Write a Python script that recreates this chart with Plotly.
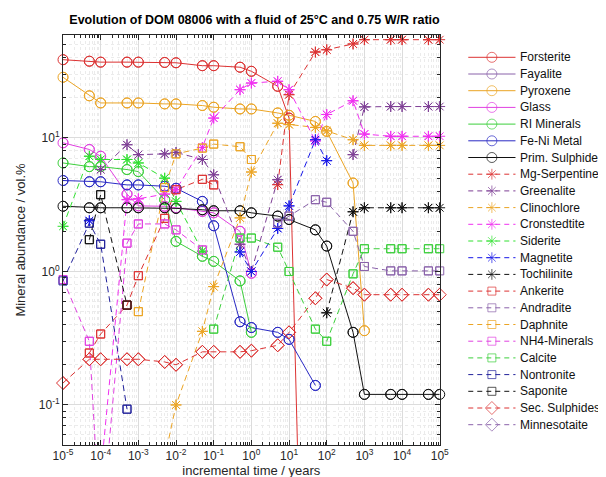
import plotly.graph_objects as go

N = None
T = [1e-5, 5e-5, 1e-4, 5e-4, 1e-3, 5e-3, 1e-2, 5e-2, 0.1, 0.5, 1, 5, 10, 50, 100,
     500, 1e3, 5e3, 1e4, 5e4, 1e5]

forsterite   = [38.6, 37.6, 37.0, 37.0, 37.0, 36.8, 36.6, 34.8, 34.8, 33.9, 31.6, 24.4, 14.1, 3e-7, N, N, N, N, N, N, N]
fayalite     = [N] * 21
pyroxene     = [28.5, 20.7, 18.3, 18.3, 18.3, 18.0, 18.0, 17.5, 17.0, 16.5, 16.5, 15.4, 14.8, 13.3, 11.2, 4.6, 0.36, N, N, N, N]
glass        = [9.2, 8.2, 7.3, 3.8, 3.1, 3.08, 3.0, 2.82, 2.75, 2.0, 0.97, N, N, N, N, N, N, N, N, N, N]
ri_minerals  = [6.5, 6.1, 6.1, 5.8, 5.6, 3.45, 1.68, 1.3, 1.19, 0.85, 0.35, N, N, N, N, N, N, N, N, N, N]
fe_ni        = [4.8, 4.7, 4.7, 4.45, 4.45, 4.35, 4.2, 3.35, 2.2, 0.42, 0.38, 0.35, 0.31, 0.14, N, N, N, N, N, N, N]
prim_sulph   = [3.08, 3.0, 3.0, 3.0, 3.0, 3.0, 2.97, 2.9, 2.85, 2.85, 2.75, 2.6, 2.45, 2.05, 1.55, 0.35, 0.12, 0.12, 0.12, 0.12, 0.12]
mg_serp      = [N, N, N, N, N, N, N, N, N, N, N, 4.47, 21.1, 44.0, 45.8, 50.6, 54.5, 54.5, 54.5, 54.5, 54.5]
greenalite   = [N, N, 5.8, 8.9, 7.5, 7.6, 7.8, 6.9, 5.3, 1.6, 1.0, 4.87, N, N, N, 7.5, 17.1, 17.2, 17.2, 17.2, 17.2]
clinochlore  = [N, N, N, N, N, 0.04, 0.1, 0.356, 0.77, 2.52, 5.56, 12.9, 12.6, 12.0, 11.3, 9.7, 8.8, 8.8, 8.8, 8.8, 8.8]
cronstedtite = [N, N, 0.03, 3.45, 3.5, 3.8, 4.1, 8.5, 14.1, 23.0, 25.8, 26.6, 23.0, 9.5, 15.0, 19.0, 10.7, 10.3, 10.3, 10.3, 10.3]
siderite     = [2.18, 7.3, 6.9, 6.9, 6.5, 5.0, 3.35, 1.42, N, N, N, N, N, N, N, N, N, N, N, N, N]
magnetite    = [N, 2.4, N, N, N, N, N, N, N, 1.4, 1.0, 2.1, 3.1, 9.7, 6.76, N, N, N, N, N, N]
tochilinite  = [N, N, N, N, N, N, N, N, N, N, N, N, N, N, 0.49, 2.8, 3.0, 3.0, 3.0, 3.0, 3.0]
ankerite     = [N, 0.245, 0.34, 0.56, 0.93, 2.5, 4.1, 4.9, 4.45, N, N, N, N, N, N, N, N, N, N, N, N]
andradite    = [N, N, N, N, N, N, N, N, N, N, N, 2.3, 2.6, 3.45, 3.3, 2.0, 1.09, 1.01, 1.01, 1.01, 1.01]
daphnite     = [N, N, N, N, 0.5, 4.25, 7.6, 8.4, 9.0, 8.6, 6.9, N, N, N, N, N, N, N, N, N, N]
nh4_minerals = [0.87, 0.30, 0.01, 1.63, 2.27, 2.27, 2.05, 1.45, N, N, N, N, N, N, N, N, N, N, N, N, N]
calcite      = [N, N, N, N, N, N, N, N, 0.37, 1.78, 1.78, 1.52, 1.0, 0.37, 0.30, 0.96, 1.48, 1.48, 1.48, 1.48, 1.48]
nontronite   = [0.85, 2.3, 1.6, 0.093, N, N, N, N, N, N, N, N, N, N, N, N, N, N, N, N, N]
saponite     = [N, 1.73, 3.76, 0.56, N, N, N, N, N, N, N, N, N, N, N, N, N, N, N, N, N]
sec_sulph    = [0.146, 0.22, 0.22, 0.22, 0.22, 0.21, 0.2, 0.25, 0.25, 0.25, 0.255, 0.28, 0.35, 0.63, 0.87, 0.75, 0.67, 0.67, 0.67, 0.67, 0.67]
minnesotaite = [N] * 21

x_ticks = [1e-5, 1e-4, 1e-3, 1e-2, 1e-1, 1e0, 1e1, 1e2, 1e3, 1e4, 1e5]
x_labels = ["10<sup>-5</sup>", "10<sup>-4</sup>", "10<sup>-3</sup>", "10<sup>-2</sup>", "10<sup>-1</sup>",
            "10<sup>0</sup>", "10<sup>1</sup>", "10<sup>2</sup>", "10<sup>3</sup>", "10<sup>4</sup>", "10<sup>5</sup>"]
y_ticks = [0.1, 1, 10]
y_labels = ["10<sup>-1</sup>", "10<sup>0</sup>", "10<sup>1</sup>"]

RED = "#dc3232"
PUR = "#7e3f95"
ORA = "#eba424"
MAG = "#e040e0"
GRN = "#3ccf3c"
BLU = "#2a2ac4"
BLK = "#111111"
LPUR = "#8a62aa"
SGRN = "#30e030"
MBLU = "#1818e8"
NBLU = "#20209a"

series = [
    ("Forsterite", forsterite, RED, "circle-open", "solid", 10),
    ("Fayalite", fayalite, LPUR, "circle-open", "solid", 10),
    ("Pyroxene", pyroxene, ORA, "circle-open", "solid", 10),
    ("Glass", glass, MAG, "circle-open", "solid", 10),
    ("RI Minerals", ri_minerals, GRN, "circle-open", "solid", 10),
    ("Fe-Ni Metal", fe_ni, BLU, "circle-open", "solid", 10),
    ("Prim. Sulphides", prim_sulph, BLK, "circle-open", "solid", 10),
    ("Mg-Serpentine", mg_serp, RED, "asterisk-open", "dash", 9),
    ("Greenalite", greenalite, PUR, "asterisk-open", "dash", 9),
    ("Clinochlore", clinochlore, ORA, "asterisk-open", "dash", 9),
    ("Cronstedtite", cronstedtite, "#f030f0", "asterisk-open", "dash", 9),
    ("Siderite", siderite, SGRN, "asterisk-open", "dash", 9),
    ("Magnetite", magnetite, MBLU, "asterisk-open", "dash", 9),
    ("Tochilinite", tochilinite, BLK, "asterisk-open", "dash", 9),
    ("Ankerite", ankerite, RED, "square-open", "dash", 8),
    ("Andradite", andradite, LPUR, "square-open", "dash", 8),
    ("Daphnite", daphnite, ORA, "square-open", "dash", 8),
    ("NH4-Minerals", nh4_minerals, MAG, "square-open", "dash", 8),
    ("Calcite", calcite, GRN, "square-open", "dash", 8),
    ("Nontronite", nontronite, NBLU, "square-open", "dash", 8),
    ("Saponite", saponite, BLK, "square-open", "dash", 8),
    ("Sec. Sulphides", sec_sulph, RED, "diamond-open", "dash", 10),
    ("Minnesotaite", minnesotaite, LPUR, "diamond-open", "dash", 10),
]

# geometry (pixels) of the figure
W, H = 606, 477
ML, MT, MB = 55, 27, 40
PLOT_RIGHT = 438
LEG_LEFT = 455
FIG_W = W - ML
main_dom = [0, (PLOT_RIGHT - ML) / FIG_W]
leg_dom = [(LEG_LEFT - ML) / FIG_W, 1]
ITEM0, ITEM_STEP = 49.3, 16.7
leg_top = (MT - ITEM0) / ITEM_STEP
leg_bot = (H - MB - ITEM0) / ITEM_STEP

Y_MIN_LOG, Y_MAX_LOG = -1.30, 1.7715
y_lo, y_hi = 10 ** Y_MIN_LOG, 10 ** Y_MAX_LOG
DASH = "6px,4px"
FONT = "Liberation Sans, Arial"

fig = go.Figure()
for name, vals, col, sym, dash, sz in series:
    fig.add_trace(go.Scatter(
        x=T, y=vals, name=name, mode="lines+markers", showlegend=False,
        line=dict(color=col, width=1, dash=DASH if dash == "dash" else "solid"),
        marker=dict(symbol=sym, size=sz, color=col, line=dict(color=col, width=1)),
        connectgaps=False, cliponaxis=True,
    ))
for name, vals, col, sym, dash, sz in series:
    xs = [t for t, v in zip(T, vals) if v is not None and y_lo <= v <= y_hi]
    ys = [v for v in vals if v is not None and y_lo <= v <= y_hi]
    if xs:
        fig.add_trace(go.Scatter(
            x=xs, y=ys, mode="markers", showlegend=False, hoverinfo="skip",
            marker=dict(symbol=sym, size=sz, color=col, line=dict(color=col, width=1)),
            cliponaxis=False,
        ))

# custom legend drawn on its own hidden axes (x in pixels, y in item index)
for i, (name, vals, col, sym, dash, sz) in enumerate(series):
    fig.add_trace(go.Scatter(
        x=[467, 491, 515], y=[i, i, i], xaxis="x2", yaxis="y2",
        mode="lines+markers", showlegend=False, hoverinfo="skip", cliponaxis=False,
        line=dict(color=col, width=1, dash="5px,4px" if dash == "dash" else "solid"),
        marker=dict(symbol=sym, size=[0, sz, 0], color=col, line=dict(color=col, width=1)),
    ))
    fig.add_annotation(x=518, y=i, xref="x2", yref="y2", text=name, showarrow=False,
                       xanchor="left", yanchor="middle",
                       font=dict(family=FONT, size=12, color="#111111"))

minor_vals = [m * 10 ** e for e in range(-5, 5) for m in range(2, 10)]
minor_y = [m * 10 ** e for e in range(-2, 2) for m in range(2, 10)]

axis_common = dict(
    type="log", showline=True, linecolor="#262626", linewidth=1, mirror="ticks",
    ticks="inside", ticklen=5, tickcolor="#262626",
    showgrid=True, gridcolor="#dcdcdc", gridwidth=1, zeroline=False,
    tickfont=dict(family=FONT, size=12, color="#262626"),
)

fig.update_layout(
    xaxis=dict(**axis_common, domain=main_dom, range=[-5, 5], tickmode="array",
               tickvals=x_ticks, ticktext=x_labels,
               minor=dict(tickmode="array", tickvals=minor_vals, ticks="inside", ticklen=3,
                          tickcolor="#262626", showgrid=True, gridcolor="#ebebeb", griddash="dot"),
               title=dict(text="incremental time / years", standoff=0,
                          font=dict(family=FONT, size=13, color="#262626"))),
    yaxis=dict(**axis_common, range=[Y_MIN_LOG, Y_MAX_LOG], tickmode="array",
               tickvals=y_ticks, ticktext=y_labels,
               minor=dict(tickmode="array", tickvals=minor_y, ticks="inside", ticklen=3,
                          tickcolor="#262626", showgrid=True, gridcolor="#ebebeb", griddash="dot"),
               title=dict(text="Mineral abundance / vol.%", standoff=10,
                          font=dict(family=FONT, size=13, color="#262626"))),
    xaxis2=dict(domain=leg_dom, range=[LEG_LEFT, W], visible=False, anchor="y2", fixedrange=True),
    yaxis2=dict(domain=[0, 1], range=[leg_bot, leg_top], visible=False, anchor="x2", fixedrange=True),
    width=W, height=H,
    margin=dict(l=ML, r=0, t=MT, b=MB),
    paper_bgcolor="white", plot_bgcolor="white",
    title=dict(text="<b>Evolution of DOM 08006 with a fluid of 25°C and 0.75 W/R ratio</b>",
               x=((ML + PLOT_RIGHT) / 2) / W, xref="container", xanchor="center",
               y=1 - 12 / H, yanchor="middle",
               font=dict(family=FONT, size=12.5, color="black")),
    showlegend=False,
)

fig.write_html("out.html")
